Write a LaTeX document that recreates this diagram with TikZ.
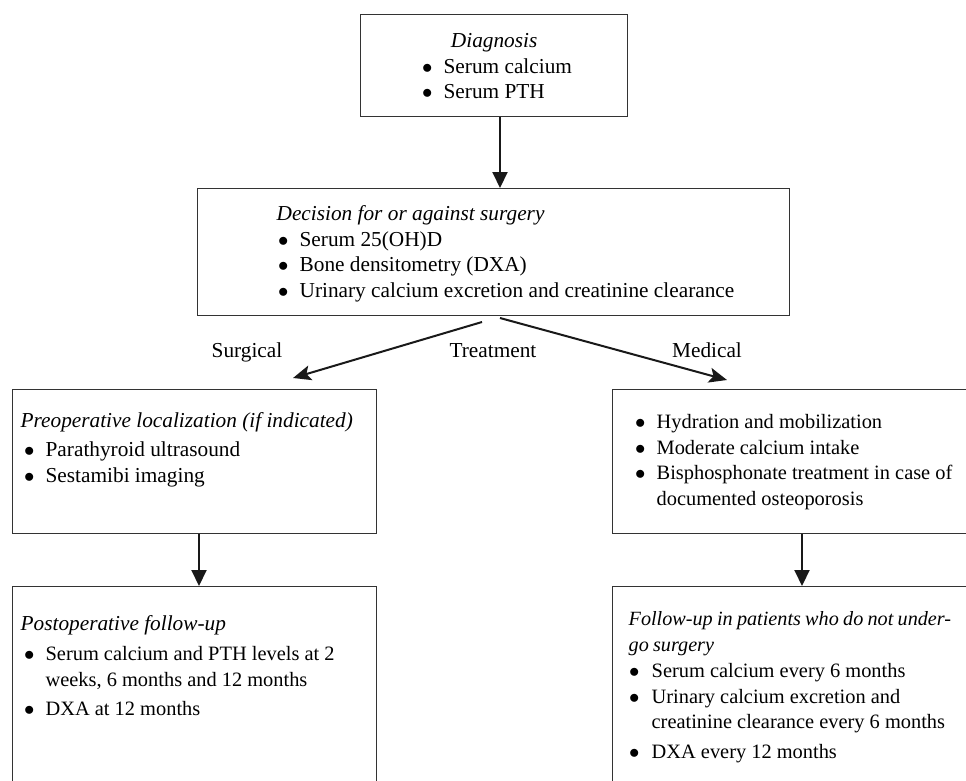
\documentclass[tikz,border=0pt]{standalone}
\usepackage{fontspec}
\setmainfont{Liberation Serif}
\usetikzlibrary{arrows.meta,calc}
\newcommand{\boxtext}[4]{\begin{minipage}[c][#1][t]{#2}\fontsize{21.3pt}{25.5pt}\selectfont\parindent=0pt\parskip=0pt\vspace*{#3}#4\end{minipage}}
\newcommand{\fst}{\rule{0pt}{17pt}}
\newcommand{\smf}{\fontsize{20.4pt}{25.5pt}\selectfont}
\newcommand{\bul}[2]{\par\hangindent=#1\hangafter=1\noindent\makebox[#1][l]{\hspace{-1.5pt}$\bullet$}#2}
\tikzset{
  box/.style={draw=black!80, line width=1.3pt, inner sep=0pt, anchor=north west},
  varr/.style={draw=black!90, line width=2pt, -{Triangle[length=16pt,width=15pt]}},
  darr/.style={draw=black!90, line width=2pt, -{Stealth[length=18pt,width=15pt,inset=4pt]}},
  lbl/.style={font=\fontsize{21.3pt}{25pt}\selectfont, inner sep=0pt, anchor=base}
}
\begin{document}
\begin{tikzpicture}[x=1pt,y=-1pt]
\useasboundingbox (0,0) rectangle (966,780);
\begin{scope}
\clip (0,0) rectangle (966,780);
\node[box] (diag) at (360,14) {\boxtext{102pt}{267pt}{16pt}{\fst\makebox[\linewidth]{\itshape Diagnosis}\par\leftskip=63pt
  \bul{20pt}{Serum calcium}\bul{20pt}{Serum PTH}}};
\node[box] (dec) at (197,188) {\boxtext{127pt}{592pt}{15pt}{\leftskip=79pt\fst\textit{Decision for or against surgery}\par\leftskip=82pt
  \bul{20pt}{Serum 25(OH)D}\bul{20pt}{Bone densitometry (DXA)}\bul{20pt}{Urinary calcium excretion and creatinine clearance}}};
\node[box] (pre) at (12,389) {\boxtext{144pt}{364pt}{21pt}{\leftskip=8pt\fst\textit{Preoperative localization (if indicated)}\par\vspace{3.5pt}\leftskip=13pt
  \bul{20pt}{Parathyroid ultrasound}\bul{20pt}{Sestamibi imaging}}};
\node[box] (post) at (12,586) {\boxtext{214pt}{364pt}{27pt}{\leftskip=8pt\fst\textit{Postoperative follow-up}\par\vspace{4.5pt}\leftskip=13pt\smf
  \bul{20pt}{Serum calcium and PTH levels at 2\\weeks, 6 months and 12 months}\par\vspace{3.5pt}\bul{20pt}{DXA at 12 months}}};
\node[box] (med) at (612,389) {\boxtext{144pt}{363pt}{22pt}{\leftskip=24pt\smf
  \bul{20pt}{\fst Hydration and mobilization}\bul{20pt}{Moderate calcium intake}\bul{20pt}{Bisphosphonate treatment in case of\\documented osteoporosis}}};
\node[box] (fu) at (612,586) {\boxtext{214pt}{363pt}{22pt}{\leftskip=16pt\fst{\fontsize{20.2pt}{25.5pt}\selectfont\spaceskip=0.21em plus 0.05em\itshape Follow-up in patients who do not under-\\go surgery\par}\vspace{1pt}\leftskip=18pt\smf
  \bul{21pt}{Serum calcium every 6 months}\bul{21pt}{Urinary calcium excretion and\\creatinine clearance every 6 months}\par\vspace{4pt}\bul{21pt}{DXA every 12 months}}};
\end{scope}
\node[lbl] (surg) at (247,357) {Surgical};
\node[lbl] (treat) at (493,357) {Treatment};
\node[lbl] (medl) at (707,357) {Medical};
\coordinate (ax) at (500,0);
\coordinate (lx) at (199,0);
\coordinate (rx) at (802,0);
\coordinate (sL) at (482,322);
\coordinate (tL) at (293,378);
\coordinate (sR) at (500,318);
\coordinate (tR) at (727,380);
\draw[varr] (ax |- diag.south) -- (ax |- dec.north);
\draw[darr] (sL) -- (tL);
\draw[darr] (sR) -- (tR);
\draw[varr] (lx |- pre.south) -- (lx |- post.north);
\draw[varr] (rx |- med.south) -- (rx |- fu.north);
\end{tikzpicture}
\end{document}
